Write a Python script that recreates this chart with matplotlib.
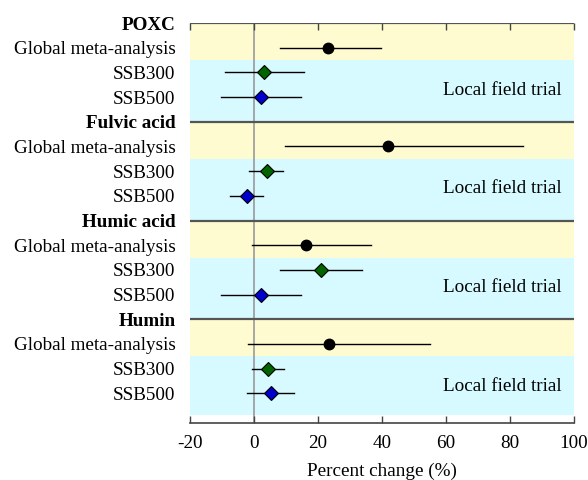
import matplotlib
matplotlib.use("Agg")
import matplotlib.pyplot as plt
import numpy as np

plt.rcParams['font.family'] = ['Liberation Serif', 'DejaVu Serif']

groups = ["POXC", "Fulvic acid", "Humic acid", "Humin"]
sub_labels = ["Global meta-analysis", "SSB300", "SSB500"]
# mean, lower, upper per group: [global, SSB300, SSB500]
means = [[23.0, 3.2, 2.2],
         [42.0, 4.0, -2.3],
         [16.3, 21.0, 2.2],
         [23.4, 4.5, 5.2]]
lowers = [[8.0, -9.1, -10.3],
          [9.7, -1.5, -7.5],
          [-0.7, 8.1, -10.3],
          [-1.8, -0.7, -2.3]]
uppers = [[39.7, 15.6, 14.6],
          [84.0, 9.2, 2.9],
          [36.5, 33.8, 14.6],
          [54.9, 9.5, 12.5]]
xticks = [-20, 0, 20, 40, 60, 80, 100]
band_text = "Local field trial"
xlabel = "Percent change (%)"

fig = plt.figure(figsize=(5.88, 4.8), dpi=100)
ax = fig.add_axes([190/588, 1-423/480, (574-190)/588, (423-23)/480])
ax.set_xlim(-20, 100)
ax.set_ylim(16.2, 0)

yellow = "#FFFBD0"
cyan = "#D6FAFF"
marker_colors = ["black", "#006400", "#0000CC"]

ytick_pos = []
ytick_lab = []
fs = 13.8
for g, name in enumerate(groups):
    base = g * 4
    ytick_pos.append(base)
    ytick_lab.append(name)
    # bands
    ax.axhspan(base, base + 1.5, color=yellow, zorder=0, lw=0)
    end = base + 4 if g < len(groups) - 1 else base + 3.87
    ax.axhspan(base + 1.5, end, color=cyan, zorder=0, lw=0)
    ax.axhline(base, color="#555555", lw=1.6, zorder=2)
    for k in range(3):
        y = base + 1 + k
        ytick_pos.append(y)
        ytick_lab.append(sub_labels[k])
        m, lo, up = means[g][k], lowers[g][k], uppers[g][k]
        ax.plot([lo, up], [y, y], color="black", lw=1.0, zorder=3)
        if k == 0:
            ax.plot(m, y, 'o', color="black", ms=7.5, zorder=4)
        else:
            ax.plot(m, y, 'D', mfc=marker_colors[k], mec="black", mew=0.8, ms=7, zorder=4)
    ax.text(96, base + 2.72, band_text, ha="right", va="center", fontsize=fs, zorder=5)

ax.axvline(0, color="#999999", lw=1.2, zorder=1)

ax.set_yticks(ytick_pos)
ax.set_yticklabels(ytick_lab, fontsize=fs)
for lab, t in zip(ax.get_yticklabels(), ytick_lab):
    if t in groups:
        lab.set_fontweight("bold")
ax.tick_params(axis="y", length=0, pad=10.5)

ax.set_xticks(xticks)
ax.set_xticklabels([str(v) for v in xticks], fontsize=fs)
ax.tick_params(axis="x", direction="in", length=5, width=1, color="#444444", top=True, pad=9)

for s in ["left", "right", "top"]:
    ax.spines[s].set_visible(False)
ax.spines["bottom"].set_color("#444444")
ax.spines["bottom"].set_linewidth(1.2)

ax.set_xlabel(xlabel, fontsize=fs, labelpad=7)

fig.savefig("out.png", dpi=100)
